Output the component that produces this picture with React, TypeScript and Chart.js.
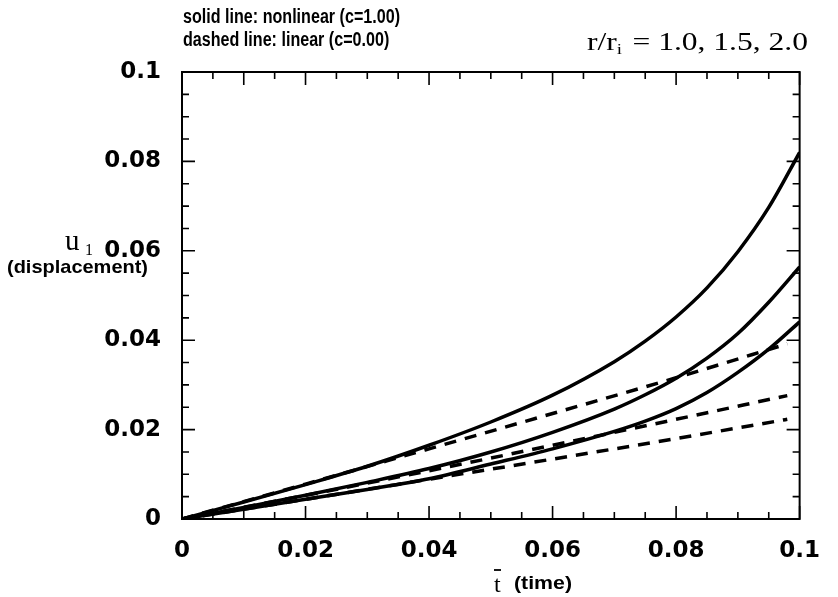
import React, { useEffect, useRef } from "react";
import { Chart, registerables } from "chart.js";

Chart.register(...registerables);

// ---- data ----
const tSolid = [0, 0.01, 0.02, 0.03, 0.04, 0.05, 0.06, 0.07, 0.075, 0.08, 0.085, 0.09, 0.095, 0.1];
const solidR10 = [0, 0.0038, 0.0077, 0.0118, 0.0165, 0.0217, 0.0277, 0.0352, 0.0398, 0.0452, 0.0517, 0.0598, 0.0697, 0.082];
const solidR15 = [0, 0.0026, 0.0053, 0.0082, 0.0113, 0.015, 0.0194, 0.0246, 0.0278, 0.0315, 0.036, 0.0415, 0.0485, 0.0564];
const solidR20 = [0, 0.0022, 0.0044, 0.0066, 0.009, 0.0123, 0.0157, 0.0196, 0.0219, 0.0247, 0.0283, 0.0328, 0.038, 0.0441];

const tDashed = [0, 0.02, 0.04, 0.06, 0.08, 0.098];
const dashedR10 = [0, 0.0078, 0.0157, 0.0236, 0.0316, 0.0392];
const dashedR15 = [0, 0.0053, 0.0108, 0.0165, 0.0223, 0.0276];
const dashedR20 = [0, 0.0044, 0.0089, 0.0134, 0.018, 0.0223];

const xTickValues = [0, 0.02, 0.04, 0.06, 0.08, 0.1];
const xTickLabels = ["0", "0.02", "0.04", "0.06", "0.08", "0.1"];
const yTickValues = [0, 0.02, 0.04, 0.06, 0.08, 0.1];
const yTickLabels = ["0", "0.02", "0.04", "0.06", "0.08", "0.1"];
const minorStep = 0.005;

const titleLine1 = "solid line: nonlinear (c=1.00)";
const titleLine2 = "dashed line: linear (c=0.00)";

const toPoints = (xs: number[], ys: number[]) => xs.map((x, i) => ({ x, y: ys[i] }));

const framePlugin = {
  id: "frameAndText",
  afterDraw(chart: any) {
    const ctx = chart.ctx as CanvasRenderingContext2D;
    const a = chart.chartArea;
    const xs = chart.scales.x;
    const ys = chart.scales.y;
    ctx.save();
    ctx.strokeStyle = "#000";
    ctx.fillStyle = "#000";
    ctx.lineWidth = 2;
    ctx.strokeRect(a.left, a.top, a.right - a.left, a.bottom - a.top);
    // inward ticks
    ctx.lineWidth = 1.6;
    const n = Math.round(0.1 / minorStep);
    for (let i = 0; i <= n; i++) {
      const v = i * minorStep;
      const major = i % 4 === 0;
      const lx = major || i === 2 ? 13 : 7;
      const px = xs.getPixelForValue(v);
      ctx.beginPath();
      ctx.moveTo(px, a.bottom);
      ctx.lineTo(px, a.bottom - lx);
      ctx.moveTo(px, a.top);
      ctx.lineTo(px, a.top + lx);
      ctx.stroke();
      const ly = major ? 13 : 7;
      const py = ys.getPixelForValue(v);
      ctx.beginPath();
      ctx.moveTo(a.left, py);
      ctx.lineTo(a.left + ly, py);
      ctx.moveTo(a.right, py);
      ctx.lineTo(a.right - ly, py);
      ctx.stroke();
    }

    // title lines (bold sans, fitted width)
    ctx.textBaseline = "middle";
    ctx.textAlign = "left";
    ctx.font = "bold 20px 'Liberation Sans', Arial, sans-serif";
    const w1 = ctx.measureText(titleLine1).width;
    const sx = 217 / w1;
    ctx.save();
    ctx.translate(183, 17);
    ctx.scale(sx, 1);
    ctx.fillText(titleLine1, 0, 0);
    ctx.restore();
    ctx.save();
    ctx.translate(183, 40);
    ctx.scale(sx, 1);
    ctx.fillText(titleLine2, 0, 0);
    ctx.restore();

    // r/r_i = ... (serif, fitted to 221px)
    ctx.textBaseline = "alphabetic";
    const big = "25px 'Liberation Serif', 'Times New Roman', serif";
    const small = "15px 'Liberation Serif', 'Times New Roman', serif";
    const p1 = "r/r";
    const p2 = "i";
    const p3 = " = 1.0, 1.5, 2.0";
    ctx.font = big;
    const wa = ctx.measureText(p1).width;
    const wc = ctx.measureText(p3).width;
    ctx.font = small;
    const wb = ctx.measureText(p2).width + 2;
    const sr = 221 / (wa + wb + wc);
    ctx.save();
    ctx.translate(587, 50);
    ctx.scale(sr, 1);
    ctx.font = big;
    ctx.fillText(p1, 0, 0);
    ctx.font = small;
    ctx.fillText(p2, wa, 4);
    ctx.font = big;
    ctx.fillText(p3, wa + wb, 0);
    ctx.restore();

    // y label
    ctx.font = "29px 'Liberation Serif', serif";
    ctx.fillText("u", 65, 250);
    ctx.font = "16px 'Liberation Serif', serif";
    ctx.fillText("1", 85, 255);
    ctx.textBaseline = "middle";
    ctx.font = "bold 19px 'Liberation Sans', Arial, sans-serif";
    const wd = ctx.measureText("(displacement)").width;
    ctx.save();
    ctx.translate(7, 268);
    ctx.scale(141 / wd, 1);
    ctx.fillText("(displacement)", 0, 0);
    ctx.restore();

    // x label
    ctx.textBaseline = "alphabetic";
    ctx.font = "24px 'Liberation Serif', serif";
    ctx.fillText("t", 494, 592);
    ctx.lineWidth = 1.8;
    ctx.beginPath();
    ctx.moveTo(494, 570);
    ctx.lineTo(501, 570);
    ctx.stroke();
    ctx.textBaseline = "middle";
    ctx.font = "bold 18px 'Liberation Sans', Arial, sans-serif";
    const wt = ctx.measureText("(time)").width;
    ctx.save();
    ctx.translate(514, 584);
    ctx.scale(58 / wt, 1);
    ctx.fillText("(time)", 0, 0);
    ctx.restore();
    ctx.restore();
  },
};

export default function App() {
  const ref = useRef<HTMLCanvasElement | null>(null);
  useEffect(() => {
    if (!ref.current) return;
    const solid = (d: number[]) => ({
      data: toPoints(tSolid, d),
      borderColor: "#000",
      borderWidth: 3.5,
      pointRadius: 0,
      fill: false,
      cubicInterpolationMode: "monotone" as const,
    });
    const dashed = (d: number[]) => ({
      data: toPoints(tDashed, d),
      borderColor: "#000",
      borderWidth: 3.5,
      borderDash: [12, 9],
      pointRadius: 0,
      fill: false,
      cubicInterpolationMode: "monotone" as const,
    });
    const tickFont = { family: "'DejaVu Sans', sans-serif", size: 23, weight: "bold" as const };
    const chart = new Chart(ref.current, {
      type: "line",
      data: {
        datasets: [
          solid(solidR10),
          solid(solidR15),
          solid(solidR20),
          dashed(dashedR10),
          dashed(dashedR15),
          dashed(dashedR20),
        ],
      },
      options: {
        responsive: false,
        animation: false,
        layout: { padding: { top: 72, right: 21, left: 0, bottom: 0 } },
        plugins: { legend: { display: false }, tooltip: { enabled: false }, title: { display: false } },
        scales: {
          x: {
            type: "linear",
            min: 0,
            max: 0.1,
            grid: { display: false, drawTicks: false },
            border: { display: false },
            afterBuildTicks: (s: any) => {
              s.ticks = xTickValues.map((v) => ({ value: v }));
            },
            afterFit: (s: any) => {
              s.height = 78;
            },
            ticks: {
              color: "#000",
              font: tickFont,
              padding: 18,
              maxRotation: 0,
              autoSkip: false,
              callback: (v: any) => {
                const i = xTickValues.findIndex((t) => Math.abs(t - Number(v)) < 1e-9);
                return i >= 0 ? xTickLabels[i] : "";
              },
            },
          },
          y: {
            type: "linear",
            min: 0,
            max: 0.1,
            grid: { display: false, drawTicks: false },
            border: { display: false },
            afterBuildTicks: (s: any) => {
              s.ticks = yTickValues.map((v) => ({ value: v }));
            },
            afterFit: (s: any) => {
              s.width = 182;
            },
            ticks: {
              color: "#000",
              font: tickFont,
              padding: 21,
              autoSkip: false,
              callback: (v: any) => {
                const i = yTickValues.findIndex((t) => Math.abs(t - Number(v)) < 1e-9);
                return i >= 0 ? yTickLabels[i] : "";
              },
            },
          },
        },
      },
      plugins: [framePlugin],
    });
    return () => chart.destroy();
  }, []);
  return (
    <div style={{ position: "absolute", left: 0, top: 0, width: 838, height: 597, background: "#fff" }}>
      <canvas ref={ref} width={838} height={597} style={{ width: 838, height: 597, display: "block" }} />
    </div>
  );
}
